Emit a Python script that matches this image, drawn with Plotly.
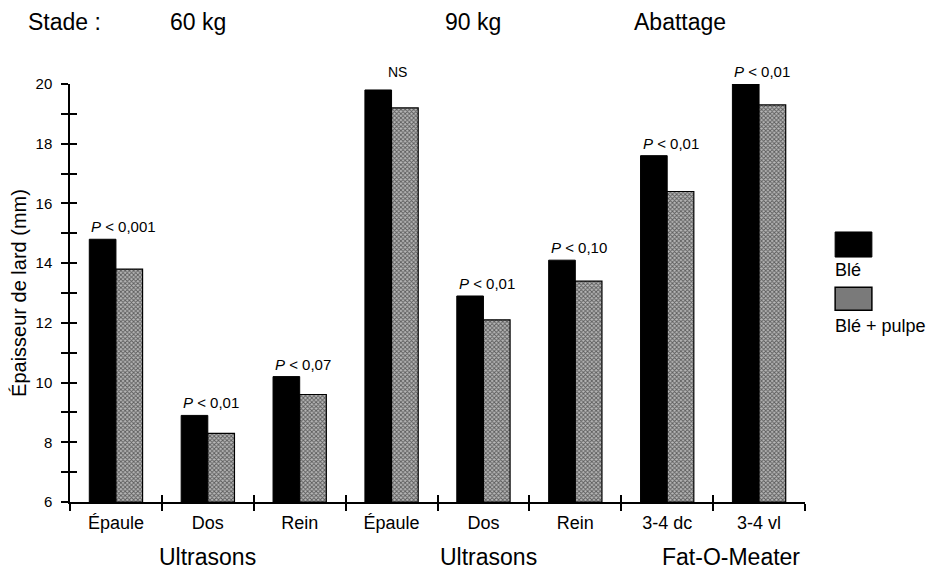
import plotly.graph_objects as go

categories = ["Épaule", "Dos", "Rein", "Épaule", "Dos", "Rein", "3-4 dc", "3-4 vl"]
ble = [14.8, 8.9, 10.2, 19.8, 12.9, 14.1, 17.6, 20.0]
ble_pulpe = [13.8, 8.3, 9.6, 19.2, 12.1, 13.4, 16.4, 19.3]
p_labels = ["<i>P</i> < 0,001", "<i>P</i> < 0,01", "<i>P</i> < 0,07", "NS",
            "<i>P</i> < 0,01", "<i>P</i> < 0,10", "<i>P</i> < 0,01", "<i>P</i> < 0,01"]
y_ticks = [6, 8, 10, 12, 14, 16, 18, 20]
stade_labels = ["Stade :", "60 kg", "90 kg", "Abattage"]
method_labels = ["Ultrasons", "Ultrasons", "Fat-O-Meater"]
legend_labels = ["Blé", "Blé + pulpe"]

FONT = "Liberation Sans, Arial, Helvetica, sans-serif"
xs = list(range(len(categories)))
PAT = dict(shape="x", fgcolor="black", bgcolor="#b8b8b8", size=3, solidity=0.5)

fig = go.Figure()
fig.add_trace(go.Bar(
    x=xs, y=[v - 6 for v in ble], base=6, name=legend_labels[0],
    marker=dict(color="black", line=dict(color="black", width=1)),
    showlegend=False,
))
fig.add_trace(go.Bar(
    x=xs, y=[v - 6 for v in ble_pulpe], base=6, name=legend_labels[1],
    marker=dict(color="white", line=dict(color="black", width=1.2), pattern=PAT),
    showlegend=False,
))
# invisible trace for overlay axes (crossing ticks)
fig.add_trace(go.Scatter(x=[0], y=[6], xaxis="x2", yaxis="y2", mode="markers",
                         marker=dict(opacity=0), showlegend=False, hoverinfo="skip"))

bound = [i - 0.5 for i in range(len(categories) + 1)]

fig.update_layout(
    width=928, height=563,
    margin=dict(l=62, r=131, t=76, b=69, autoexpand=False),
    paper_bgcolor="white", plot_bgcolor="white",
    font=dict(family=FONT, color="black", size=15),
    barmode="group", bargap=0.42, bargroupgap=0,
    showlegend=False,
    xaxis=dict(range=[-0.5, 7.5], tickvals=xs, ticktext=categories,
               ticks="", showgrid=False, zeroline=False,
               showline=True, linecolor="black", linewidth=1.5,
               tickfont=dict(size=18), ticklabelstandoff=4,
               minor=dict(tickvals=bound, ticks="outside", ticklen=7,
                          tickcolor="black", tickwidth=1.5)),
    yaxis=dict(range=[6, 20], tickvals=y_ticks, ticks="outside", ticklen=7,
               tickwidth=1.5, tickcolor="black", showgrid=False, zeroline=False,
               showline=True, linecolor="black", linewidth=1.5,
               tickfont=dict(size=15), ticklabelstandoff=6,
               title=dict(text="Épaisseur de lard (mm)", font=dict(size=20), standoff=9),
               minor=dict(dtick=1, tick0=7, ticks="outside", ticklen=7,
                          tickcolor="black", tickwidth=1.5)),
    xaxis2=dict(overlaying="x", anchor="y2", range=[-0.5, 7.5], showgrid=False,
                zeroline=False, showticklabels=False, tickvals=bound,
                ticks="inside", ticklen=7, tickcolor="black", tickwidth=1.5,
                side="bottom"),
    yaxis2=dict(overlaying="y", anchor="x2", range=[6, 20], showgrid=False,
                zeroline=False, showticklabels=False, dtick=1, tick0=6,
                ticks="inside", ticklen=7, tickcolor="black", tickwidth=1.5,
                side="left"),
)

# P-value annotations
for i, (lab, v) in enumerate(zip(p_labels, ble)):
    if lab == "NS":
        fig.add_annotation(x=i + 0.07, y=v, text=lab, showarrow=False,
                           xanchor="center", yanchor="bottom", yshift=8,
                           font=dict(size=14))
    else:
        fig.add_annotation(x=i - 0.29, y=v, text=lab, showarrow=False,
                           xanchor="left", yanchor="bottom", yshift=2,
                           font=dict(size=15))

# Stade labels (top)
stade_x = [None, 0.893, 3.886, 6.14]
fig.add_annotation(xref="paper", yref="paper", x=-0.06, y=1.0, yshift=62,
                   text=stade_labels[0], showarrow=False, xanchor="left",
                   yanchor="middle", font=dict(size=23))
for lab, xv in zip(stade_labels[1:], stade_x[1:]):
    fig.add_annotation(x=xv, xref="x", yref="paper", y=1.0, yshift=62, text=lab,
                       showarrow=False, xanchor="center", yanchor="middle",
                       font=dict(size=23))

# Method labels (bottom)
method_x = [1.0, 4.05, 6.69]
for lab, xv in zip(method_labels, method_x):
    fig.add_annotation(x=xv, xref="x", yref="paper", y=0, yshift=-55, text=lab,
                       showarrow=False, xanchor="center", yanchor="middle",
                       font=dict(size=23))

# Legend (swatches + labels below them)
fig.add_shape(type="rect", xref="paper", yref="paper", x0=1.041, x1=1.091,
              y0=0.586, y1=0.646, fillcolor="black", line=dict(color="black", width=1))
fig.add_shape(type="rect", xref="paper", yref="paper", x0=1.041, x1=1.091,
              y0=0.459, y1=0.514, fillcolor="#7a7a7a", line=dict(color="black", width=1.5))
fig.add_annotation(xref="paper", yref="paper", x=1.038, y=0.555, text=legend_labels[0],
                   showarrow=False, xanchor="left", yanchor="middle", font=dict(size=18))
fig.add_annotation(xref="paper", yref="paper", x=1.038, y=0.421, text=legend_labels[1],
                   showarrow=False, xanchor="left", yanchor="middle", font=dict(size=18))

fig.write_html("out.html")
